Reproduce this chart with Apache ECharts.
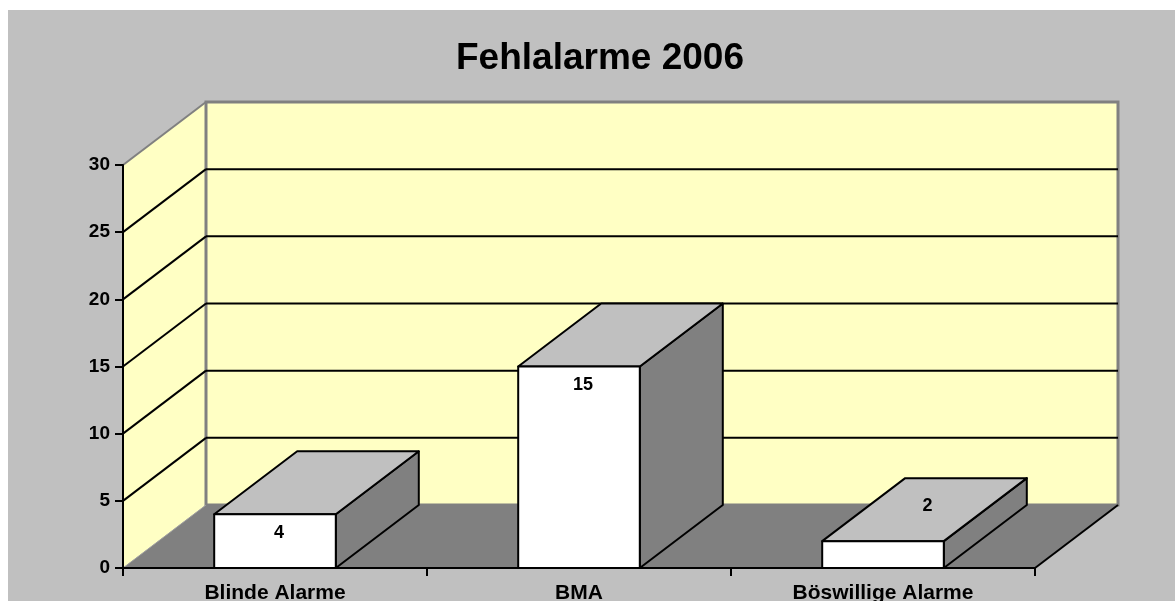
<!DOCTYPE html>
<html>
<head>
<meta charset="utf-8">
<script src="https://cdn.jsdelivr.net/npm/echarts@6/dist/echarts.min.js"></script>
<style>
  body { margin: 0; background: #fff; }
  #chart { width: 1175px; height: 601px; }
</style>
</head>
<body>
<div id="chart"></div>
<script>
const titleText = 'Fehlalarme 2006';
const categories = ['Blinde Alarme', 'BMA', 'Böswillige Alarme'];
const values = [4, 15, 2];
const yTicks = [0, 5, 10, 15, 20, 25, 30];

// depth of the 3d box (screen offset of the back plane)
const DX = 83, DY = -63;
const FONT = '"Liberation Sans", Arial, sans-serif';

const dom = document.getElementById('chart');
const myChart = echarts.init(dom, null, { renderer: 'canvas' });

function walls(params, api) {
  const cs = params.coordSys;
  const x0 = cs.x, yb = cs.y + cs.height, yt = cs.y;
  return {
    type: 'group',
    children: [
      { // left wall
        type: 'polygon',
        shape: { points: [[x0, yb], [x0, yt], [x0 + DX, yt + DY], [x0 + DX, yb + DY]] },
        style: { fill: '#FFFFC4', stroke: null }
      },
      { // back wall
        type: 'rect',
        shape: { x: x0 + DX, y: yt + DY, width: cs.width, height: cs.height },
        style: { fill: '#FFFFC4', stroke: '#808080', lineWidth: 3 }
      },
      {
        type: 'line',
        shape: { x1: x0, y1: yt, x2: x0 + DX, y2: yt + DY },
        style: { stroke: '#808080', lineWidth: 2 }
      }
    ]
  };
}

function gridLine(params, api) {
  const v = api.value(0);
  if (v === yTicks[0] || v === yTicks[yTicks.length - 1]) return null;
  const cs = params.coordSys;
  const y = api.coord([0, v])[1];
  const x0 = cs.x;
  return {
    type: 'group',
    children: [
      { type: 'line', shape: { x1: x0, y1: y, x2: x0 + DX, y2: y + DY }, style: { stroke: '#000', lineWidth: 2 } },
      { type: 'line', shape: { x1: x0 + DX, y1: y + DY, x2: x0 + DX + cs.width, y2: y + DY }, style: { stroke: '#000', lineWidth: 2 } }
    ]
  };
}

function floor(params, api) {
  const cs = params.coordSys;
  const x0 = cs.x, x1 = cs.x + cs.width, yb = cs.y + cs.height;
  return {
    type: 'group',
    children: [
      {
        type: 'polygon',
        shape: { points: [[x0, yb], [x1, yb], [x1 + DX, yb + DY], [x0 + DX, yb + DY]] },
        style: { fill: '#808080', stroke: null }
      },
      { type: 'line', shape: { x1: x0, y1: yb, x2: x0 + DX, y2: yb + DY }, style: { stroke: '#A0A0A0', lineWidth: 1 } },
      { type: 'line', shape: { x1: x1, y1: yb, x2: x1 + DX, y2: yb + DY }, style: { stroke: '#000', lineWidth: 2 } }
    ]
  };
}

function bar3d(params, api) {
  const idx = api.value(0);
  const val = api.value(1);
  const base = api.coord([idx, 0]);
  const top = api.coord([idx, val]);
  const w = api.size([1, 0])[0] * 0.4;
  const xl = base[0] - w / 2, xr = base[0] + w / 2;
  const yt = top[1], yb = base[1];
  const edge = { stroke: '#000', lineWidth: 2, lineJoin: 'round' };
  const h = yb - yt;
  let lx, ly;
  if (h > 40) { lx = base[0] + 4; ly = yt + 19; }
  else { lx = base[0] + DX / 2 + 3; ly = yt + DY / 2 - 4; }
  return {
    type: 'group',
    children: [
      {
        type: 'polygon',
        shape: { points: [[xr, yt], [xr + DX, yt + DY], [xr + DX, yb + DY], [xr, yb]] },
        style: Object.assign({ fill: '#808080' }, edge)
      },
      {
        type: 'polygon',
        shape: { points: [[xl, yt], [xr, yt], [xr + DX, yt + DY], [xl + DX, yt + DY]] },
        style: Object.assign({ fill: '#C0C0C0' }, edge)
      },
      {
        type: 'rect',
        shape: { x: xl, y: yt, width: w, height: h },
        style: Object.assign({ fill: '#FFFFFF' }, edge)
      },
      {
        type: 'text',
        style: {
          text: String(val), x: lx, y: ly,
          font: 'bold 18px ' + FONT, fill: '#000',
          textAlign: 'center', textVerticalAlign: 'middle',
          align: 'center', verticalAlign: 'middle'
        }
      }
    ]
  };
}

const option = {
  backgroundColor: '#FFFFFF',
  animation: false,
  graphic: [{
    type: 'rect', z: -100,
    shape: { x: 8, y: 10, width: 1167, height: 591 },
    style: { fill: '#C0C0C0' }
  }],
  title: {
    text: titleText,
    left: 451,
    top: 35,
    textStyle: { fontFamily: FONT, fontSize: 37, fontWeight: 'bold', color: '#000' }
  },
  grid: { left: 123, right: 140, top: 165, bottom: 33, containLabel: false, outerBoundsMode: 'none' },
  xAxis: {
    type: 'category',
    data: categories,
    z: 10,
    axisLine: { lineStyle: { color: '#000', width: 2 } },
    axisTick: { show: true, alignWithLabel: false, length: 8, lineStyle: { color: '#000', width: 2 } },
    axisLabel: { color: '#000', fontFamily: FONT, fontSize: 21, fontWeight: 'bold', margin: 15 },
    splitLine: { show: false }
  },
  yAxis: {
    type: 'value',
    min: yTicks[0],
    max: yTicks[yTicks.length - 1],
    interval: yTicks[1] - yTicks[0],
    z: 10,
    axisLine: { show: true, lineStyle: { color: '#000', width: 2 } },
    axisTick: { show: true, length: 8, lineStyle: { color: '#000', width: 2 } },
    axisLabel: { color: '#000', fontFamily: FONT, fontSize: 19, fontWeight: 'bold', margin: 13 },
    splitLine: { show: false }
  },
  series: [
    { type: 'custom', name: 'walls', z: 1, clip: false, silent: true, renderItem: walls, data: [[0]] },
    { type: 'custom', name: 'grid', z: 2, clip: false, silent: true, renderItem: gridLine, data: yTicks.map(v => [v]) },
    { type: 'custom', name: 'floor', z: 3, clip: false, silent: true, renderItem: floor, data: [[0]] },
    {
      type: 'custom', name: 'Fehlalarme', z: 4, clip: false,
      renderItem: bar3d,
      encode: { x: 0, y: 1 },
      data: categories.map((c, i) => [i, values[i]])
    }
  ]
};

myChart.setOption(option);
window.addEventListener('resize', myChart.resize);
</script>
</body>
</html>
